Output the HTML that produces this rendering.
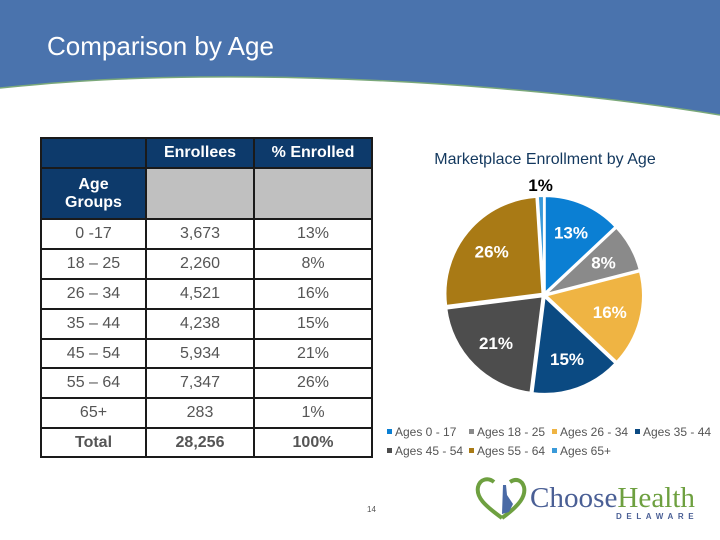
<!DOCTYPE html>
<html><head><meta charset="utf-8"><style>
body{margin:0;width:720px;height:540px;overflow:hidden;background:#fff;font-family:"Liberation Sans",Arial,sans-serif;position:relative}
table{position:absolute;left:40px;top:137px;border-collapse:collapse;font-size:16px}
td{border:2px solid #1a1a1a;text-align:center;padding:0;color:#555}
.h{background:#0d3a6b;color:#fff;font-weight:bold}
.g{background:#c0c0c0}
</style></head><body>
<svg width="720" height="540" style="position:absolute;left:0;top:0">
<path d="M0 0H720V115C600 95 400 75 200 77C100 78 40 84 0 88Z" fill="#4a73ad"/>
<path d="M0 88C40 84 100 78 200 77C400 75 600 95 720 115" fill="none" stroke="#7aa87a" stroke-width="1.5"/>
<text x="47" y="55" font-size="26" fill="#fff" font-family="Liberation Sans, sans-serif">Comparison by Age</text>
</svg>
<table>
<tr style="height:30px"><td class="h" style="width:103px"></td><td class="h" style="width:106px">Enrollees</td><td class="h" style="width:116px">% Enrolled</td></tr>
<tr style="height:51px"><td class="h">Age<br>Groups</td><td class="g"></td><td class="g"></td></tr>
<tr style="height:30px"><td>0 -17</td><td>3,673</td><td>13%</td></tr>
<tr style="height:30px"><td>18 – 25</td><td>2,260</td><td>8%</td></tr>
<tr style="height:30px"><td>26 – 34</td><td>4,521</td><td>16%</td></tr>
<tr style="height:30px"><td>35 – 44</td><td>4,238</td><td>15%</td></tr>
<tr style="height:29px"><td>45 – 54</td><td>5,934</td><td>21%</td></tr>
<tr style="height:30px"><td>55 – 64</td><td>7,347</td><td>26%</td></tr>
<tr style="height:30px"><td>65+</td><td>283</td><td>1%</td></tr>
<tr style="height:29px;font-weight:bold"><td>Total</td><td>28,256</td><td>100%</td></tr>
</table>
<svg id="pie" width="720" height="540" style="position:absolute;left:0;top:0">
<text x="545" y="164" font-size="16" fill="#13385e" text-anchor="middle">Marketplace Enrollment by Age</text>
</svg>
<div style="position:absolute;left:367px;top:505px;font-size:8px;color:#555">14</div>
<svg width="240" height="70" style="position:absolute;left:470px;top:470px">
<path d="M32 48C14 35 6 27 8 17C10 9 18 7 24 12M32 48C50 35 56 26 54 17C52 10 46 8 40 12" fill="none" stroke="#6ea040" stroke-width="4"/>
<path d="M33 15L36 15L37 25L43 34L39 42L32 44Z" fill="#4a6aa5"/>
<text x="60" y="37" font-family="Liberation Serif, serif" font-size="29" fill="#4a5f95" textLength="165" lengthAdjust="spacingAndGlyphs">Choose<tspan fill="#6ea040">Health</tspan></text>
<text x="146" y="49" font-family="Liberation Sans, sans-serif" font-size="8" font-weight="bold" fill="#4a5f95" letter-spacing="4.6">DELAWARE</text>
</svg>
<script>
const categories=["Ages 0 - 17","Ages 18 - 25","Ages 26 - 34","Ages 35 - 44","Ages 45 - 54","Ages 55 - 64","Ages 65+"];
const values=[3673,2260,4521,4238,5934,7347,283];
const pctLabels=["13%","8%","16%","15%","21%","26%","1%"];
const colors=["#0b7fd3","#8a8a8a","#efb443","#0b4a82","#4d4d4d","#a97a15","#3a9ad9"];
const NS="http://www.w3.org/2000/svg";
const svg=document.getElementById('pie');
const cx=544,cy=295,r=97;
const total=values.reduce((a,b)=>a+b,0);
let a0=0;
function pt(a,rr){return [cx+rr*Math.sin(a),cy-rr*Math.cos(a)];}
values.forEach((v,i)=>{
  const a1=a0+v/total*2*Math.PI;
  const mid=(a0+a1)/2;
  const ox=2*Math.sin(mid),oy=-2*Math.cos(mid);
  const p0=pt(a0,r),p1=pt(a1,r);
  const path=document.createElementNS(NS,'path');
  path.setAttribute('d',`M${cx} ${cy}L${p0[0]} ${p0[1]}A${r} ${r} 0 ${a1-a0>Math.PI?1:0} 1 ${p1[0]} ${p1[1]}Z`);
  path.setAttribute('fill',colors[i]);
  path.setAttribute('stroke','#fff');
  path.setAttribute('stroke-width','2');
  path.setAttribute('transform',`translate(${ox},${oy})`);
  
  
  svg.appendChild(path);
  const t=document.createElementNS(NS,'text');
  const small=v/total<0.03;
  const lp=small?pt(mid,r+13):pt(mid,r*0.7);
  t.setAttribute('x',lp[0]);t.setAttribute('y',lp[1]+6);
  t.setAttribute('text-anchor','middle');
  t.setAttribute('font-size','17');t.setAttribute('font-weight','bold');
  t.setAttribute('fill',small?'#000':'#fff');
  t.textContent=pctLabels[i];
  
  
  svg.appendChild(t);
  a0=a1;
});
const lx=[387,469,552,635,387,469,552],ly=[436,436,436,436,455,455,455];
categories.forEach((c,i)=>{
  const g=document.createElementNS(NS,'g');
  
  
  const s=document.createElementNS(NS,'rect');
  s.setAttribute('x',lx[i]);s.setAttribute('y',ly[i]-7);s.setAttribute('width',5);s.setAttribute('height',5);s.setAttribute('fill',colors[i]);
  const t=document.createElementNS(NS,'text');
  t.setAttribute('x',lx[i]+8);t.setAttribute('y',ly[i]);t.setAttribute('font-size','12');t.setAttribute('fill','#555');
  t.textContent=c;
  g.appendChild(s);g.appendChild(t);svg.appendChild(g);
});
</script>
</body></html>
